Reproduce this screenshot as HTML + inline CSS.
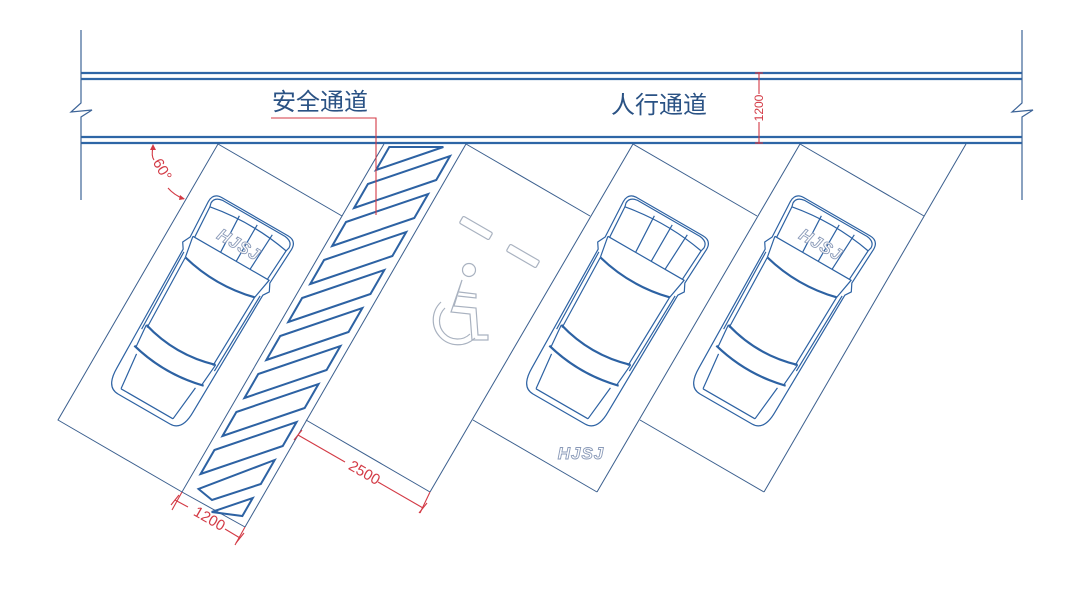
<!DOCTYPE html>
<html><head><meta charset="utf-8"><style>
html,body{margin:0;padding:0;background:#fff}
svg{display:block}
</style></head><body>
<svg width="1080" height="592" viewBox="0 0 1080 592" xmlns="http://www.w3.org/2000/svg">
<defs>
<g id="car" fill="none" stroke="#2d62a3" stroke-width="1.2" stroke-linejoin="round">
  <path d="M -38,-110 L 38,-110 Q 48,-110 48,-100 L 46,-60 L 50,-52 L 46,-46 L 44,90 Q 44,112 30,112 L -30,112 Q -44,112 -44,90 L -46,-46 L -50,-52 L -46,-60 L -48,-100 Q -48,-110 -38,-110 Z"/>
  <path d="M -36,-108 L 36,-108 Q 45,-107 45,-100 L 44,-96 Q 0,-104 -44,-96 L -45,-100 Q -45,-107 -36,-108 Z"/>
  <path d="M -14,-103 L -12,-62 M 6,-104 L 6,-62 M 24,-103 L 22,-62"/>
  <path d="M -44,-96 L -42,-62 M 44,-96 L 42,-62"/>
  <path d="M -44,-62 L 44,-62 L 40,-40 M -44,-62 L -40,-40"/>
  <path d="M -40,-40 Q 0,-30 40,-40" stroke-width="2.2"/>
  <path d="M -40,-40 L -38,40 M 40,-40 L 38,40 M -44,-44 L -42,44 M 44,-44 L 42,44"/>
  <path d="M -40,38 Q 0,50 40,38" stroke-width="2.2"/>
  <path d="M -40,38 L -38,62 M 40,38 L 38,62"/>
  <path d="M -40,62 Q 0,72 40,62" stroke-width="2.2"/>
  <path d="M -34,68 L -30,106 M 34,68 L 30,106 M -30,106 L 30,106"/>
</g>
<g id="logo">
  <text x="0" y="0" text-anchor="middle" font-family="Liberation Sans, sans-serif" font-size="17" font-weight="bold" font-style="italic" fill="#fff" stroke="#8a9ab8" stroke-width="0.9" letter-spacing="1">HJSJ</text>
</g>
</defs>

<!-- road -->
<g stroke="#2e66a6" stroke-width="2.2" fill="none">
  <line x1="81" y1="73" x2="1022" y2="73"/>
  <line x1="81" y1="79" x2="1022" y2="79"/>
  <line x1="81" y1="137" x2="1022" y2="137"/>
  <line x1="81" y1="143" x2="1022" y2="143"/>
</g>
<g stroke="#3d6497" stroke-width="1.2" fill="none">
  <path d="M81,30 V103 L71,112 L92,110 L81,117 V200"/>
  <path d="M1022,30 V103 L1012,112 L1033,110 L1022,117 V200"/>
</g>

<!-- stalls -->
<g stroke="#3b5f8e" stroke-width="1" fill="none">
  <polygon points="218,144 342,216 182,492 58,420"/>
  <line x1="342" y1="216" x2="384" y2="144"/>
  <line x1="466" y1="144" x2="245" y2="527"/>
  <line x1="182" y1="492" x2="245" y2="527"/>
  <line x1="466" y1="144" x2="590" y2="216"/>
  <line x1="306" y1="420" x2="430" y2="492"/>
  <line x1="633" y1="144" x2="430" y2="492"/>
  <line x1="633" y1="144" x2="757" y2="216"/>
  <line x1="473" y1="420" x2="597" y2="492"/>
  <line x1="800" y1="144" x2="597" y2="492"/>
  <line x1="800" y1="144" x2="924" y2="216"/>
  <line x1="640" y1="420" x2="764" y2="492"/>
  <line x1="966" y1="144" x2="764" y2="492"/>
</g>

<!-- hatch bars in aisle (u,v frame) -->
<g transform="matrix(66,0,-0.577,1,391,144)" fill="none" stroke="#2d62a3" stroke-width="2" stroke-linejoin="miter">
  <polygon vector-effect="non-scaling-stroke" points="0,26 0.82,3 0,3"/>
  <polygon vector-effect="non-scaling-stroke" points="0,64 1,36 1,12 0,40"/>
  <polygon vector-effect="non-scaling-stroke" points="0,102 1,74 1,50 0,78"/>
  <polygon vector-effect="non-scaling-stroke" points="0,140 1,112 1,88 0,116"/>
  <polygon vector-effect="non-scaling-stroke" points="0,178 1,150 1,126 0,154"/>
  <polygon vector-effect="non-scaling-stroke" points="0,216 1,188 1,164 0,192"/>
  <polygon vector-effect="non-scaling-stroke" points="0,254 1,226 1,202 0,230"/>
  <polygon vector-effect="non-scaling-stroke" points="0,292 1,264 1,240 0,268"/>
  <polygon vector-effect="non-scaling-stroke" points="0,330 1,302 1,278 0,306"/>
  <polygon vector-effect="non-scaling-stroke" points="0.1,345 0.4,356 1,340 1,316"/>
  <polygon vector-effect="non-scaling-stroke" points="0.5,368 1,354 1,372"/>
</g>

<!-- accessible stall markings -->
<g fill="none" stroke="#a9b2c0" stroke-width="1.2">
  <rect x="-17" y="-4" width="34" height="8" rx="1.5" transform="translate(476,228) rotate(30)"/>
  <rect x="-17" y="-4" width="34" height="8" rx="1.5" transform="translate(523,256) rotate(30)"/>
  <circle cx="469" cy="270" r="6.5"/>
  <path d="M462,280 L454,306 L476,308 L478,335 L488,335 L488,340 L472,340 L470,314 L451,312 Z"/>
  <path d="M459,292 L476,294 L476,298 L458,296"/>
  <path d="M441,302 A24,24 0 1 0 475,338" />
  <path d="M445,308 A18,18 0 1 0 470,334" />
</g>
<use href="#logo" transform="translate(581,459)"/>

<!-- cars -->
<use href="#car" transform="translate(200,312) rotate(30)"/>
<use href="#car" transform="translate(615,312) rotate(30)"/>
<use href="#car" transform="translate(782,312) rotate(30)"/>
<use href="#logo" transform="translate(200,312) rotate(30) translate(0,-72)"/>
<use href="#logo" transform="translate(782,312) rotate(30) translate(0,-72)"/>

<!-- labels -->
<text x="272" y="110" font-family="Liberation Sans, 'Noto Sans CJK SC', sans-serif" font-size="24" fill="#2a5284">安全通道</text>
<text x="611" y="113" font-family="Liberation Sans, 'Noto Sans CJK SC', sans-serif" font-size="24" fill="#2a5284">人行通道</text>

<!-- red annotations -->
<g stroke="#d33a45" stroke-width="1.1" fill="none">
  <path d="M271,118 H376 V215"/>
  <line x1="759" y1="72" x2="759" y2="94"/>
  <line x1="759" y1="122" x2="759" y2="144"/>
  <line x1="755" y1="73" x2="763" y2="73"/>
  <line x1="755" y1="143" x2="763" y2="143"/>
  <path d="M153,147 Q151,156 154,160"/>
  <path d="M168,188 Q174,195 184,199"/>
  <line x1="298" y1="435" x2="345" y2="462"/>
  <line x1="378" y1="482" x2="423" y2="508"/>
  <line x1="430" y1="492" x2="420" y2="513"/>
  <line x1="294" y1="440" x2="302" y2="430"/>
  <line x1="419" y1="513" x2="427" y2="503"/>
  <line x1="182" y1="492" x2="172" y2="510"/>
  <line x1="245" y1="527" x2="235" y2="545"/>
  <line x1="175" y1="500" x2="188" y2="507"/>
  <line x1="225" y1="529" x2="240" y2="538"/>
  <line x1="171" y1="505" x2="179" y2="495"/>
  <line x1="236" y1="543" x2="244" y2="533"/>
</g>
<path d="M150,150 L153,144 L156,150 Z M180,195 L185,199 L179,200 Z" fill="#d33a45"/>
<g font-family="Liberation Sans, sans-serif" fill="#d33a45">
  <text x="0" y="0" font-size="12" text-anchor="middle" transform="translate(763,108) rotate(-90)">1200</text>
  <text x="0" y="0" font-size="15" text-anchor="middle" transform="translate(158,172) rotate(60)">60°</text>
  <text x="0" y="0" font-size="15" text-anchor="middle" transform="translate(362,477) rotate(30)">2500</text>
  <text x="0" y="0" font-size="15" text-anchor="middle" transform="translate(207,523) rotate(30)">1200</text>
</g>
</svg>
</body></html>
